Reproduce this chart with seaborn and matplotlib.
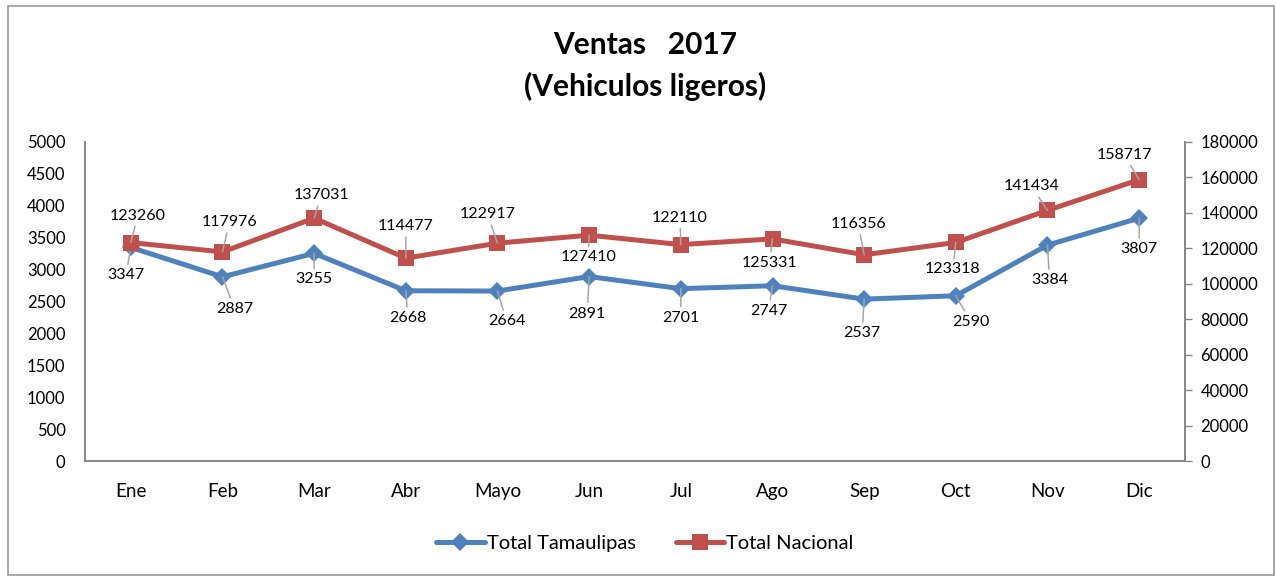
import matplotlib
matplotlib.use("Agg")
import matplotlib.pyplot as plt
import seaborn as sns
import pandas as pd
from matplotlib.patches import Rectangle
from matplotlib.lines import Line2D

# ---- data ----
months = ["Ene", "Feb", "Mar", "Abr", "Mayo", "Jun", "Jul", "Ago", "Sep", "Oct", "Nov", "Dic"]
tamaulipas = [3347, 2887, 3255, 2668, 2664, 2891, 2701, 2747, 2537, 2590, 3384, 3807]
nacional = [123260, 117976, 137031, 114477, 122917, 127410, 122110, 125331, 116356, 123318, 141434, 158717]
left_ticks = list(range(0, 5001, 500))
right_ticks = list(range(0, 180001, 20000))

# ---- label offsets (pixels, x right / y down) ----
off_tam = [(-5, 28), (12, 32), (0, 26), (2, 27), (9, 30), (-2, 37), (0, 29), (-4, 25), (-2, 34), (15, 26), (2, 35), (0, 31)]
off_nac = [(7, -27), (7, -30), (7, -23), (0, -32), (-10, -29), (-1, 22), (-1, -27), (-3, 24), (-6, -31), (-3, 27), (-16, -24), (-15, -25)]

sns.set_theme(style="white")
plt.rcParams["font.family"] = ["Lato", "DejaVu Sans"]
plt.rcParams["text.color"] = "black"
plt.rcParams["xtick.color"] = "black"
plt.rcParams["ytick.color"] = "black"

BLUE = "#4F81BD"
RED = "#C0504D"
GRAY = "#868686"

W, H = 1276, 577
fig = plt.figure(figsize=(W / 100, H / 100), dpi=100)
fig.patch.set_facecolor("white")
fig.patches.append(Rectangle((8 / W, 1 - 575 / H), (1274 - 8) / W, (575 - 6) / H,
                             transform=fig.transFigure, fill=False, edgecolor="#9a9a9a", linewidth=1.2))

left, right, bottom, top = 85, 1185, 461, 142
ax = fig.add_axes([left / W, 1 - bottom / H, (right - left) / W, (bottom - top) / H])
ax2 = ax.twinx()

df = pd.DataFrame({"x": range(len(months)), "tam": tamaulipas, "nac": nacional})

sns.lineplot(data=df, x="x", y="tam", ax=ax, color=BLUE, linewidth=3.6, marker="D",
             markersize=9, markeredgewidth=0, zorder=3)
sns.lineplot(data=df, x="x", y="nac", ax=ax2, color=RED, linewidth=3.6, marker="s",
             markersize=11, markeredgewidth=0, zorder=3)

ax.set_xlim(-0.5, len(months) - 0.5)
ax.set_ylim(0, 5000)
ax2.set_ylim(0, 180000)
ax.set_yticks(left_ticks)
ax.set_yticklabels([str(v) for v in left_ticks], fontsize=12)
ax2.set_yticks(right_ticks)
ax2.set_yticklabels([str(v) for v in right_ticks], fontsize=12)
ax.set_xticks(range(len(months)))
ax.set_xticklabels(months, fontsize=13.5)
ax.set_xlabel("")
ax.set_ylabel("")
ax2.set_ylabel("")
ax.tick_params(axis="x", length=0, pad=16, labelcolor="black")
ax.tick_params(axis="y", length=0, pad=14, labelcolor="black")
ax2.tick_params(axis="y", length=5, width=1, color=GRAY, pad=6, direction="out", right=True,
                labelcolor="black")

for a in (ax, ax2):
    a.spines["top"].set_visible(False)
    for s in ("left", "right", "bottom"):
        a.spines[s].set_color(GRAY)
        a.spines[s].set_linewidth(1.2)
ax.grid(False)
ax2.grid(False)
ax.set_facecolor("none")

arrow = dict(arrowstyle="-", color="#a6a6a6", lw=1.1, shrinkA=0.5, shrinkB=0)
for i, (v, (dx, dy)) in enumerate(zip(tamaulipas, off_tam)):
    ax.annotate(str(v), xy=(i, v), xytext=(dx, -dy), textcoords="offset pixels",
                ha="center", va="center", fontsize=11.5, color="black",
                arrowprops=arrow, zorder=5)
for i, (v, (dx, dy)) in enumerate(zip(nacional, off_nac)):
    ax2.annotate(str(v), xy=(i, v), xytext=(dx, -dy), textcoords="offset pixels",
                 ha="center", va="center", fontsize=11.5, color="black",
                 arrowprops=arrow, zorder=5)

fig.text(645 / W, 1 - 66 / H, "Ventas   2017\n(Vehiculos ligeros)", ha="center", va="center",
         fontsize=21.5, fontweight="bold", linespacing=1.5, color="black")

handles = [Line2D([], [], color=BLUE, lw=3.6, marker="D", markersize=9, markeredgewidth=0),
           Line2D([], [], color=RED, lw=3.6, marker="s", markersize=11, markeredgewidth=0)]
fig.legend(handles, ["Total Tamaulipas", "Total Nacional"], loc="center",
           bbox_to_anchor=(645 / W, 1 - 543 / H), ncol=2, frameon=False, fontsize=14.5,
           handlelength=2.4, handletextpad=0.1, columnspacing=2.0, labelcolor="black")

fig.savefig("out.png", dpi=100)
